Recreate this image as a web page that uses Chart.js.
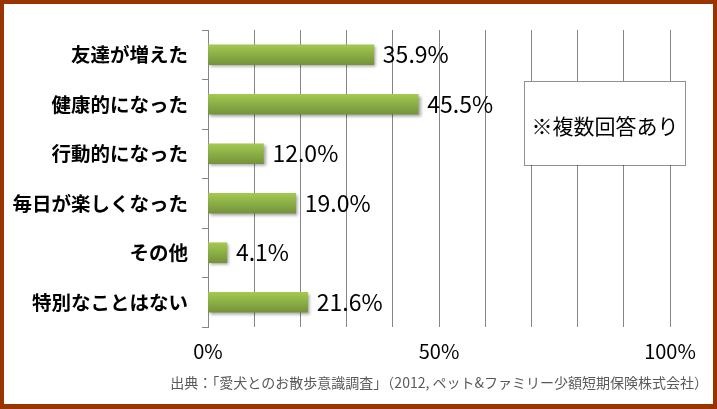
<!DOCTYPE html>
<html>
<head>
<meta charset="utf-8">
<script src="https://cdn.jsdelivr.net/npm/chart.js@4"></script>
<style>
  html, body { margin: 0; padding: 0; background: #fff; }
  #wrap { width: 717px; height: 409px; box-sizing: border-box; border: 4px solid #993300; border-bottom-width: 5px; background: #fff; }
  #chart { display: block; }
</style>
</head>
<body>
<div id="wrap"><canvas id="chart" width="709" height="400"></canvas></div>
<script>
// データ
const categories = ['友達が増えた', '健康的になった', '行動的になった', '毎日が楽しくなった', 'その他', '特別なことはない'];
const values = [35.9, 45.5, 12.0, 19.0, 4.1, 21.6];
const tickLabels = ['0%', '50%', '100%'];
const noteText = '※複数回答あり';
const sourceText = '出典：「愛犬とのお散歩意識調査」（2012, ペット&ファミリー少額短期保険株式会社）';

const FONT = '"Noto Sans CJK JP", "Noto Sans", sans-serif';
const BAR_H = 20;

// バーごとの縦グラデーション
function barGradient(context) {
    const chart = context.chart;
    const yScale = chart.scales.y;
    if (!yScale || !chart.chartArea) return '#8db543';
    const yc = yScale.getPixelForValue(context.dataIndex);
    const g = chart.ctx.createLinearGradient(0, yc - BAR_H / 2, 0, yc + BAR_H / 2);
    g.addColorStop(0, '#a3c951');
    g.addColorStop(1, '#74933a');
    return g;
}

// 影、ラベル、注記
const extras = {
    id: 'extras',
    beforeDatasetsDraw(chart) {
        const ctx = chart.ctx;
        ctx.save();
        ctx.shadowColor = 'rgba(0,0,0,0.35)';
        ctx.shadowBlur = 3;
        ctx.shadowOffsetX = 2;
        ctx.shadowOffsetY = 2;
    },
    afterDatasetsDraw(chart) {
        const ctx = chart.ctx;
        ctx.restore();
        const meta = chart.getDatasetMeta(0);
        ctx.save();
        ctx.font = '23px ' + FONT;
        ctx.fillStyle = '#000';
        ctx.textBaseline = 'middle';
        ctx.textAlign = 'left';
        meta.data.forEach((bar, i) => {
            ctx.fillText(values[i].toFixed(1) + '%', bar.x + 9, bar.y);
        });
        ctx.restore();
    },
    afterDraw(chart) {
        const ctx = chart.ctx;
        ctx.save();
        // 注記ボックス
        ctx.fillStyle = '#fff';
        ctx.fillRect(520, 77, 161, 84);
        ctx.strokeStyle = '#222';
        ctx.lineWidth = 1;
        ctx.setLineDash([1, 1]);
        ctx.strokeRect(520.5, 77.5, 161, 84);
        ctx.setLineDash([]);
        ctx.fillStyle = '#000';
        ctx.font = '21px ' + FONT;
        ctx.textAlign = 'center';
        ctx.textBaseline = 'middle';
        ctx.fillText(noteText, 601, 122);
        // 出典
        ctx.fillStyle = '#595959';
        ctx.font = '14px ' + FONT;
        ctx.textAlign = 'right';
        ctx.fillText(sourceText, 704, 379);
        ctx.restore();
    }
};

new Chart(document.getElementById('chart'), {
    type: 'bar',
    data: {
        labels: categories,
        datasets: [{
            data: values,
            backgroundColor: barGradient,
            borderWidth: 0,
            barThickness: BAR_H
        }]
    },
    options: {
        indexAxis: 'y',
        responsive: false,
        animation: false,
        layout: { padding: { top: 26, right: 43, left: 0, bottom: 0 } },
        plugins: {
            legend: { display: false },
            tooltip: { enabled: false }
        },
        scales: {
            x: {
                min: 0,
                max: 100,
                ticks: {
                    stepSize: 10,
                    autoSkip: false,
                    maxRotation: 0,
                    padding: 12,
                    color: '#000',
                    font: { family: FONT, size: 20 },
                    callback: (v) => (v % 50 === 0 ? tickLabels[v / 50] : '')
                },
                grid: { color: '#868686', drawTicks: false },
                border: { display: false },
                afterFit(scale) { scale.height = 77; }
            },
            y: {
                ticks: {
                    color: '#000',
                    padding: 14,
                    font: { family: FONT, size: 19.5, weight: 'bold' }
                },
                grid: { drawOnChartArea: false, drawTicks: true, tickLength: 6, offset: true, color: '#868686' },
                border: { display: true, color: '#868686' },
                afterFit(scale) { scale.width = 204; }
            }
        }
    },
    plugins: [extras]
});
</script>
</body>
</html>
